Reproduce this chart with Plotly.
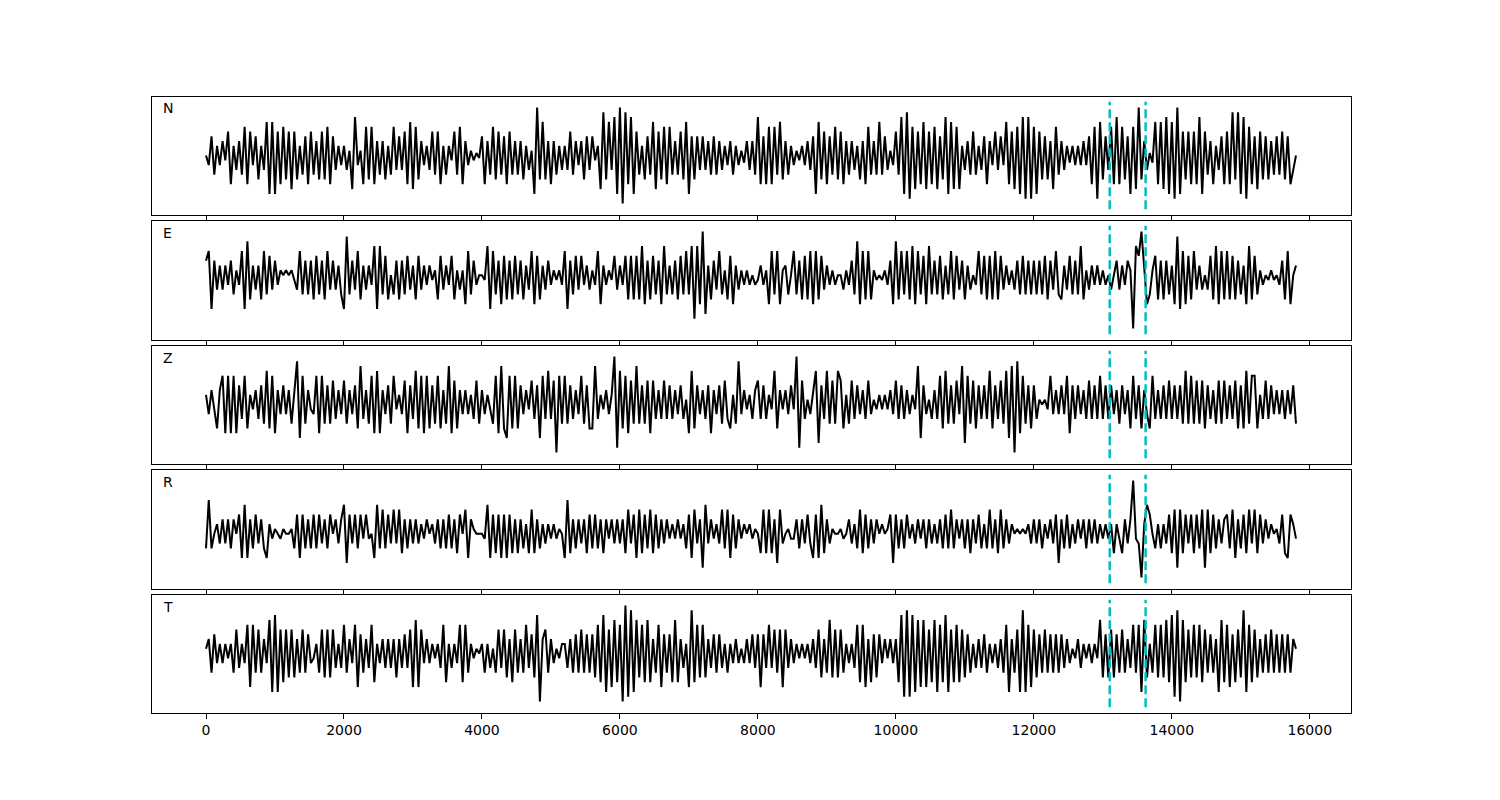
import numpy as np
import plotly.graph_objects as go

# sample spacing of the traces (x axis is sample index)
SAMPLE_STEP = 40

channel_names = ["N", "E", "Z", "R", "T"]

N_vals = [
    0, -2, 4, -4, 2, -2, 3, -1, 5, -6,
    2, -3, 3, -4, 6, -6, 5, -2, 4, -5,
    2, -3, 7, -8, 7, -8, 5, -6, 6, -5,
    5, -7, 5, -5, 2, -4, 4, -6, 5, -4,
    3, -5, 5, -5, 6, -6, 4, -3, 2, -2,
    2, -3, 1, -7, 8, -2, 1, -6, 6, -5,
    6, -6, 3, -4, 3, -5, 2, -4, 6, -3,
    4, -3, 5, -6, 7, -7, 6, -5, 3, -2,
    2, -3, 5, -4, 5, -6, 2, -4, 2, -1,
    5, -4, 6, -6, 3, -2, 1, -1, 0.5, -0.5,
    4, -6, 3, -4, 6, -5, 5, -4, 4, -6,
    5, -4, 3, -4, 3, -5, 2, -3, 1, -8,
    10, -5, 7, -5, 3, -6, 3, -4, 2, -3,
    2, -3, 5, -4, 3, -2, 3, -5, 4, -3,
    4, -1, 2, -7, 9, -5, 7, -3, 8, -8,
    10, -10, 9, -6, 8, -8, 5, -4, 2, -5,
    4, -4, 7, -7, 5, -5, 6, -6, 6, -4,
    3, -4, 5, -5, 7, -8, 4, -5, 4, -3,
    4, -3, 3, -4, 4, -4, 3, -3, 2, -2,
    3, -4, 2, -2, 1, -1.5, 3, -3, 3, -4,
    8, -6, 4, -6, 6, -6, 6, -4, 7, -5,
    3, -4, 2, -2, 1, -1, 2, -2, 3, -3,
    4, -8, 7, -5, 5, -6, 4, -4, 6, -5,
    5, -6, 3, -4, 3, -3, 2, -5, 3, -6,
    6, -4, 3, -4, 7, -4, 4, -3, 1, -2,
    5, -4, 8, -8, 9, -9, 6, -7, 5, -6,
    7, -7, 5, -6, 6, -7, 4, -5, 8, -8,
    7, -7, 6, -7, 2, -3, 3, -4, 5, -4,
    2, -3, 4, -6, 3, -2, 5, -3, 4, -2,
    7, -6, 5, -7, 6, -8, 8, -9, 8, -9,
    6, -8, 5, -5, 4, -5, 3, -7, 6, -4,
    3, -3, 2, -1.5, 2, -2, 2, -2, 3, -2,
    4, -6, 6, -9, 7, -5, 4, -3, 6, -6,
    8, -6, 6, -5, 4, -8, 6, -7, 10, -5,
    3, -3, 0.5, -1.5, 7, -6, 7, -7, 8, -8,
    7, -9, 10, -8, 5, -5, 5, -6, 5, -6,
    8, -8, 5, -4, 3, -6, 2, -3, 4, -6,
    5, -6, 9, -5, 9, -8, 8, -9, 6, -6,
    4, -7, 5, -5, 4, -5, 3, -4, 4, -4,
    5, -5, 4, -6, -3, 0,
]

E_vals = [
    4, 6, -6, 4, -2, 3, -2, 3, -1, 4,
    -3, 2, -1, 6, -6, 8, -4, 3, -2, 3,
    -4, 6, -3, 5, -2, 4, -1, 2, 1, 2,
    1, 2, 0, -2, 6, -3, 4, -3, 4, -4,
    5, -3, 4, -4, 6, -2, 4, -2, 3, -3,
    -6, 9, -3, 4, -2, 6, -4, 3, -2, 3,
    -1, 7, -6, 7, -3, 5, -4, 1, -3, 4,
    -4, 4, -3, 5, -2, 3, -4, 5, -2, 3,
    -1, 3, 0, 2, -4, 5, -2, 3, -1, 5,
    -4, 2, -2, 2, -5, 6, -3, 4, -1, 1,
    1, 0, 7, -6, 6, -3, 4, -5, 5, -4,
    4, -4, 5, -3, 4, -4, 3, -2, 6, -5,
    5, -4, 3, -2, 4, -1, 2, 0, 2, -1,
    6, -6, 4, -3, 5, -2, 5, -1, 3, -2,
    2, -1, 6, -5, 3, -1, 2, 0, 5, -2,
    3, -1, 5, -4, 5, -4, 5, -4, 7, -5,
    4, -4, 5, -3, 4, -5, 7, -3, 3, -3,
    4, -4, 5, -3, 6, -3, 7, -8, 7, -5,
    10, -7, 3, -4, 4, -2, 6, -3, 2, -4,
    5, -5, 3, -2, 2, -1, 2, -1, 1, -1,
    0, 3, -1, 2, -5, 6, -3, 6, -5, 2,
    3, -3, 1, 6, -3, 4, -4, 5, -4, 6,
    -5, 6, -4, 5, -2, 3, -1, 2, -1, 1,
    1, -2, 2, -1, 4, -3, 8, -5, 6, -4,
    6, -4, 2, 0, 1, 0, 2, -1, 4, -5,
    8, -4, 6, -3, 6, -4, 7, -5, 6, -3,
    5, -5, 7, -3, 4, -3, 5, -4, 3, -3,
    6, -4, 5, -2, 4, -4, 3, -2, 1, -1,
    6, -3, 5, -4, 5, -4, 6, -4, 5, -2,
    3, -1, 2, -2, 4, -3, 5, -3, 4, -3,
    4, -3, 4, -3, 5, -4, 4, -2, 6, -3,
    -4, 3, -2, 5, -3, 4, -3, 7, -4, 2,
    -2, 3, -1, 3, -1, 2, -1, 1, -2, 1,
    4, -2, 3, -1, 4, 2, -10, 7, 5, 10,
    3, -5, -3, 2, 5, -4, 4, -4, 4, -3,
    3, -5, 9, -6, 6, -5, 5, -4, 6, -2,
    3, -2, 1, -2, 5, -4, 7, -5, 6, -4,
    6, -4, 5, -4, 4, -3, 3, -5, 7, -4,
    5, -3, 2, -1, 1, 0, 2, 0, 1, -1,
    4, -4, 6, -5, 1, 3,
]

Z_vals = [
    2, -2, 3, -1, -5, 3, 6, -6, 6, -6,
    6, -6, 4, -3, 6, -5, 2, -1, 3, -3,
    4, -4, 7, -5, 6, -6, 3, -2, 4, -2,
    3, -4, 2, 9, -7, 6, -4, 3, -1, -2,
    6, -6, 6, -4, 4, -4, 5, -3, 3, -2,
    5, -4, 3, -2, 4, -5, 8, -3, 3, -4,
    6, -6, 7, -6, 3, -2, 4, -4, 6, -1,
    2, -2, 5, -6, 4, -3, 7, -5, 6, -6,
    6, -5, 4, -4, 6, -5, 3, -4, 8, -6,
    5, -5, 3, -2, 3, -2, 2, -3, 5, -4,
    3, -2, 2, -1, -4, 6, -6, 8, -5, -7,
    6, -5, 6, -5, 4, -2, 3, -1, 5, -3,
    4, -7, 6, -3, 7, -3, 5, -10, 6, -4,
    6, -4, 4, -3, 3, -2, 6, -4, 4, -5,
    -5, 8, -3, 2, -1, 3, -2, 2, 10, -9,
    7, -5, 6, -6, 5, -4, 8, -4, 4, -4,
    5, -6, 5, -3, 3, -3, 5, -3, 4, -3,
    3, -2, 4, -3, 1, -6, 7, -5, 4, -2,
    3, -3, 4, -6, 3, -2, 4, -4, 5, -3,
    -5, 2, -4, 9, -2, 3, -1, 2, -3, 3,
    5, -3, 4, -3, 2, -1, 7, -5, 3, -1,
    3, -2, 4, -1, 10, -9, 5, -3, 1, -2,
    3, 7, -8, 4, -3, 7, -4, 5, -4, 7,
    5, -5, 2, -4, 5, -3, 4, -2, 3, -3,
    5, -2, 1, -1, 2, -1, 2, -1, 3, -2,
    5, -3, 4, -3, 3, -2, 2, -1, 8, -7,
    4, -2, 1, -3, 3, -3, 6, -5, 7, -4,
    4, -4, 5, -2, 8, -8, 6, -4, 5, -5,
    4, -3, 4, -3, 7, -5, 4, -3, 5, -4,
    7, -7, 8, -10, 9, -6, 6, -4, 4, -5,
    4, -3, 1, 0, 1, -1, 6, -2, 3, -2,
    4, -2, 6, -6, 4, -3, 4, -2, 3, -3,
    5, -3, 4, -3, 6, -3, 4, -3, 4, -2,
    3, -4, 4, -2, 3, -5, 6, -3, 4, -5,
    3, -2, -5, 6, -3, 3, -3, 4, -3, 5,
    -3, 4, -3, 4, -4, 7, -4, 6, -4, 5,
    -4, 5, -5, 4, -3, 3, -4, 5, -4, 5,
    -3, 4, -3, 5, -5, 4, -5, 7, -4, 6,
    6, -5, 2, -3, 5, -3, 4, -2, 3, -2,
    3, -3, 3, -2, 4, -4,
]

R_vals = [
    -4, 6, -4, -1, 1, -3, 2, -3, 2, -4,
    2, -1, 3, -6, 5, -6, 2, -4, 3, -3,
    2, -4, -6, 1, -2, 0, -1, -2, 0, -1,
    -1, 0, -4, 3, -6, 3, -4, 2, -4, 3,
    -4, 3, -3, 2, -4, 3, -1, 2, -3, 2,
    5, -7, 3, -3, 3, -4, 3, -2, 3, -2,
    -1, -6, 5, -4, 4, -4, 3, -3, 4, -3,
    4, -5, 2, -4, 2, -3, 2, -3, 1, -2,
    2, -1, 1, -3, 2, -4, 2, -4, 3, -4,
    2, -5, 3, -1, 4, -6, 2, 0, -1, -1,
    -1, -2, 5, -6, 3, -5, 3, -6, 3, -6,
    3, -5, 2, -5, 2, -4, 1, -5, 4, -5,
    2, -4, 1, -3, 1, -2, 1, -2, 0, -1,
    -6, 6, -5, 2, -4, 2, -3, 2, -5, 3,
    -4, 3, -4, 2, -5, 2, -2, 2, -3, 2,
    -3, 2, -5, 4, -3, 3, -6, 4, -5, 3,
    -4, 4, -5, 3, -4, 2, -3, 2, -2, 1,
    -2, 2, -2, 1, -4, 3, -6, 4, -3, 2,
    -8, 5, -3, 2, -2, 1, -3, 4, -4, 4,
    -6, 3, -4, 2, -2, 1, -1, 1, -2, 0,
    -1, -5, 4, -5, 4, -5, 2, -7, 4, -3,
    -1, 0, -2, -2, 2, -4, 2, -3, 3, -3,
    -6, 3, -6, 5, -5, 2, -3, 0, -1, -1,
    0, -2, -1, 2, -3, 1, -4, 4, -5, 3,
    -4, 2, -3, 2, -1, 1, -1, 0, 3, -7,
    3, -4, 2, -4, 3, -2, 1, -3, 2, -2,
    2, -4, 2, -3, 1, -3, 2, -4, 3, -4,
    4, -4, 2, -2, 2, -4, 2, -5, 2, -3,
    3, -4, 1, -4, 4, -4, 2, -5, 4, -4,
    2, -3, 1, -1, 0, -1, 0, -1, 1, -3,
    2, -3, 2, -4, 1, -2, 2, -3, 3, -7,
    2, -4, 3, -4, 1, -3, 2, -2, 2, -4,
    2, -3, 2, -3, 1, -2, 1, -2, 1, -5,
    1, -2, -5, 2, -3, 2, 10, -2, -3, -10,
    1, 5, 3, -1, -4, 1, -4, 1, -3, 3,
    -5, 4, -8, 4, -5, 3, -3, 3, -5, 3,
    -4, 4, -8, 4, -5, 3, -4, 2, -3, 2,
    3, -4, 4, -6, 2, -4, 3, -5, 4, -3,
    4, -5, 3, -3, 2, -2, 1, -1, 0, -3,
    3, -5, -6, 3, 1, -2,
]

T_vals = [
    1, 3, -4, 4, -2, 2, -2, 2, -1, 2,
    -4, 5, -3, 2, -2, 6, -7, 6, -4, 5,
    -4, 3, -2, 7, -8, 8, -8, 5, -6, 5,
    -5, 5, -5, 3, -4, 5, -4, 4, -2, -1,
    2, -4, 5, -5, 5, -5, 5, -3, 2, -3,
    6, -4, 3, -2, 6, -7, 4, -4, 3, -3,
    6, -6, 2, -2, 3, -3, 3, -3, 3, -5,
    3, -3, 4, -3, 5, -7, 7, -7, 5, -2,
    3, -2, 2, -1, 2, -3, 6, -6, 2, -3,
    2, -2, 6, -6, 6, -4, 2, -1, 1, 0,
    2, -4, 2, -3, 1, -4, 5, -3, 5, -5,
    3, -6, 5, -4, 3, -4, 6, -3, 4, -5,
    8, -10, 3, 5, -4, 3, -2, 1, -1, 2,
    2, -3, 3, -4, 4, -4, 5, -4, 4, -4,
    4, -5, 6, -6, 8, -8, 5, -7, 7, -6,
    6, -10, 10, -9, 9, -8, 7, -5, 6, -6,
    7, -6, 3, -4, 6, -7, 4, -4, 4, -6,
    7, -6, 3, -3, 2, -7, 9, -6, 6, -5,
    6, -5, 3, -3, 4, -4, 4, -3, 2, -4,
    2, -2, 3, -2, 1, -2, 3, -2, 4, -3,
    4, -7, 4, -3, 6, -3, 5, -4, 5, -7,
    5, -3, 3, -2, 2, -1, 2, -1, 2, -2,
    3, -3, 5, -5, 3, -4, 7, -5, 5, -5,
    5, -4, 2, -2, 2, -3, 6, -6, 6, -7,
    3, -6, 4, -5, 4, -2, 3, -1, 3, -2,
    3, -6, 8, -9, 9, -9, 8, -8, 7, -7,
    7, -7, 5, -6, 7, -8, 6, -6, 8, -8,
    5, -6, 6, -6, 5, -5, 4, -4, 2, -3,
    3, -3, 4, -4, 2, -2, 2, -3, 3, -4,
    6, -8, 3, -4, 5, -8, 9, -8, 6, -7,
    5, -5, 4, -4, 5, -4, 4, -4, 4, -4,
    4, -3, 3, -2, 1, -1, 3, -3, 2, -1,
    2, -2, 2, -1, 7, -5, 4, -5, 5, -5,
    4, -4, 5, -4, 3, -3, 6, -4, 6, -8,
    7, -5, 2, -4, 6, -5, 6, -5, 7, -6,
    8, -9, 9, -10, 7, -6, 5, -5, 6, -5,
    6, -6, 5, -4, 4, -4, 3, -8, 7, -6,
    6, -7, 4, -6, 5, -5, 9, -8, 6, -6,
    5, -5, 3, -4, 4, -4, 5, -4, 4, -4,
    4, -4, 4, -4, 3, 1,
]

channel_values = [N_vals, E_vals, Z_vals, R_vals, T_vals]

# pick times (dashed markers)
pick_times = [13100, 13620]
pick_span = 11.2

x_ticks = [0, 2000, 4000, 6000, 8000, 10000, 12000, 14000, 16000]

# panel layout (page pixels, compensating the page body margin)
W = 1500.0
H = 800.0
OFF = 7.5
x_domain = [(151 - OFF) / W, (1350 - OFF) / W]
panel_px = [(96, 214), (220, 339), (345, 463), (469, 588), (594, 712)]

fig = go.Figure()
layout = dict(
    width=1500, height=800,
    margin=dict(l=0, r=0, t=0, b=0),
    paper_bgcolor="white", plot_bgcolor="white",
    showlegend=False,
    font=dict(family="DejaVu Sans", size=14, color="black"),
)
shapes = []
annotations = []
n = len(channel_names)
for i, (name, vals) in enumerate(zip(channel_names, channel_values)):
    k = i + 1
    xa = "x" if k == 1 else f"x{k}"
    ya = "y" if k == 1 else f"y{k}"
    xs = np.arange(len(vals)) * SAMPLE_STEP
    fig.add_trace(go.Scatter(x=xs, y=vals, mode="lines",
                             line=dict(color="black", width=2),
                             xaxis=xa, yaxis=ya, hoverinfo="skip"))
    top, bot = panel_px[i]
    ydom = [1 - (bot - OFF) / H, 1 - (top - OFF) / H]
    xkey = "xaxis" if k == 1 else f"xaxis{k}"
    ykey = "yaxis" if k == 1 else f"yaxis{k}"
    layout[xkey] = dict(
        domain=x_domain, anchor=ya, range=[-790, 16590],
        showline=True, mirror=True, linecolor="black", linewidth=1,
        ticks="outside", ticklen=5, tickwidth=1, tickcolor="black",
        tickvals=x_ticks, ticktext=[str(t) for t in x_ticks],
        showticklabels=(k == n), showgrid=False, zeroline=False,
        tickfont=dict(family="DejaVu Sans", size=14, color="black"),
        matches=None if k == 1 else "x",
    )
    layout[ykey] = dict(
        domain=ydom, anchor=xa, range=[-12.3, 12.3],
        showline=True, mirror=True, linecolor="black", linewidth=1,
        ticks="", showticklabels=False, showgrid=False, zeroline=False,
    )
    for t in pick_times:
        shapes.append(dict(type="line", xref=xa, yref=ya,
                           x0=t, x1=t, y0=-pick_span, y1=pick_span,
                           line=dict(color="#00BFBF", width=2.5, dash="9px,4px")))
    annotations.append(dict(text=name, xref="paper", yref="paper",
                            x=(167 - OFF) / W, y=1 - (top + 12 - OFF) / H,
                            xanchor="center", yanchor="middle", showarrow=False,
                            font=dict(family="DejaVu Sans", size=14, color="black")))

layout["shapes"] = shapes
layout["annotations"] = annotations
fig.update_layout(**layout)
fig.write_html("out.html")
